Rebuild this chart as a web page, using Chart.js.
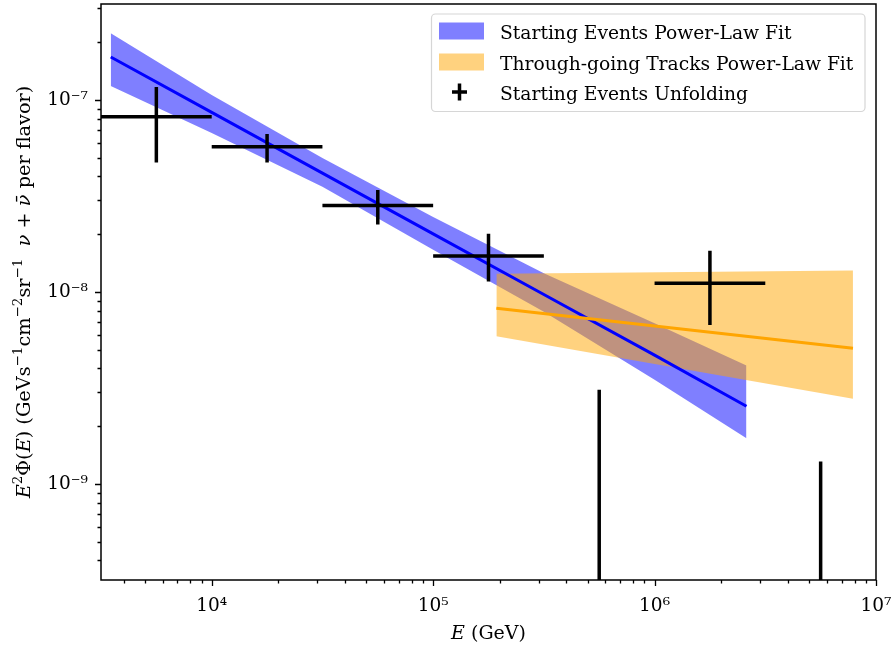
<!DOCTYPE html>
<html><head><meta charset="utf-8">
<script src="https://cdn.jsdelivr.net/npm/chart.js@4.4.0/dist/chart.umd.min.js"></script>
<style>html,body{margin:0;padding:0;background:#fff}#wrap{width:891px;height:646px}</style>
</head><body><div id="wrap"><canvas id="c" width="891" height="646"></canvas></div>
<script>
// ---- Starting events power-law fit (energy in GeV, E^2 flux) ----
const fitEnergy = [3500, 1e4, 3.162e4, 1e5, 3.162e5, 1e6, 2.6e6];
const fitLine   = [1.674e-7, 8.62e-8, 4.16e-8, 2.008e-8, 9.70e-9, 4.69e-9, 2.54e-9];
const fitUpper  = [2.23e-7, 1.062e-7, 4.99e-8, 2.46e-8, 1.251e-8, 6.87e-9, 4.14e-9];
const fitLower  = [1.182e-7, 6.73e-8, 3.53e-8, 1.658e-8, 7.89e-9, 3.49e-9, 1.733e-9];
// ---- Through-going tracks power-law fit ----
const trkEnergy = [1.93e5, 7.87e6];
const trkLine   = [8.24e-9, 5.10e-9];
const trkUpper  = [1.244e-8, 1.294e-8];
const trkLower  = [5.89e-9, 2.78e-9];
// ---- Starting events unfolding (bins) ----
const binLow    = [3162, 1e4, 31623, 1e5, 316228, 1e6, 3162278];
const binHigh   = [1e4, 31623, 1e5, 316228, 1e6, 3162278, 1e7];
const binCenter = [5623, 17783, 56234, 177828, 562341, 1778279, 5623413];
const flux      = [8.18e-8, 5.7e-8, 2.82e-8, 1.54e-8, 0, 1.11e-8, 0];
const fluxLow   = [4.72e-8, 4.72e-8, 2.25e-8, 1.135e-8, 0, 6.74e-9, 0];
const fluxHigh  = [1.17e-7, 6.65e-8, 3.4e-8, 2.01e-8, 3.1e-9, 1.64e-8, 1.31e-9];
// ---- axes ----
const xRange = [3162.28, 1e7];
const yRange = [3.1623e-10, 3.1623e-7];
const xTickValues = [1e4, 1e5, 1e6, 1e7];
const xTickLabels = ['10⁴', '10⁵', '10⁶', '10⁷'];
const yTickValues = [1e-9, 1e-8, 1e-7];
const yTickLabels = ['10⁻⁹', '10⁻⁸', '10⁻⁷'];
const legendLabels = ['Starting Events Power-Law Fit', 'Through-going Tracks Power-Law Fit', 'Starting Events Unfolding'];

const FONT = 'DejaVu Serif';
const BLUE = '#0000ff', ORANGE = '#ffa500';
const BLUE_BAND = 'rgba(0,0,255,0.5)', ORANGE_BAND = 'rgba(255,165,0,0.5)';

const zip = (xs, ys) => xs.map((x, i) => ({x, y: ys[i]}));
const belowAxis = yRange[0] / 100;

const errPts = [];
for (let i = 0; i < binCenter.length; i++) {
  if (flux[i] > 0) {
    errPts.push({x: binLow[i], y: flux[i]}, {x: binHigh[i], y: flux[i]}, {x: binCenter[i], y: null});
  }
  errPts.push({x: binCenter[i], y: fluxLow[i] > 0 ? fluxLow[i] : belowAxis}, {x: binCenter[i], y: fluxHigh[i]}, {x: binCenter[i], y: null});
}

function minorValues(lo, hi) {
  const out = [];
  for (let d = Math.floor(Math.log10(lo)) - 1; d <= Math.ceil(Math.log10(hi)); d++) {
    for (let k = 2; k <= 9; k++) { const v = k * Math.pow(10, d); if (v >= lo * 1.0001 && v <= hi * 0.9999) out.push(v); }
  }
  return out;
}

function drawRich(ctx, segs, size) {
  let total = 0;
  const items = segs.map(s => {
    const fs = s.sup ? size * 0.7 : size;
    const font = (s.it ? 'italic ' : '') + fs + 'px "' + FONT + '"';
    ctx.font = font;
    const w = ctx.measureText(s.t).width;
    total += w;
    return {t: s.t, font, w, dy: s.sup ? -size * 0.42 : 0};
  });
  let x = -total / 2;
  items.forEach(it => { ctx.font = it.font; ctx.fillText(it.t, x, it.dy); x += it.w; });
}

const decor = {
  id: 'decor',
  afterDraw(chart) {
    const ctx = chart.ctx, a = chart.chartArea;
    const xs = chart.scales.x, ys = chart.scales.y;
    ctx.save();
    ctx.strokeStyle = '#000'; ctx.fillStyle = '#000';
    // ticks
    ctx.lineWidth = 1.3;
    ctx.beginPath();
    xTickValues.forEach(v => { const p = Math.round(xs.getPixelForValue(v)) + 0.5; ctx.moveTo(p, a.bottom); ctx.lineTo(p, a.bottom + 6); });
    minorValues(xRange[0], xRange[1]).forEach(v => { const p = Math.round(xs.getPixelForValue(v)) + 0.5; ctx.moveTo(p, a.bottom); ctx.lineTo(p, a.bottom + 3.5); });
    yTickValues.forEach(v => { const p = Math.round(ys.getPixelForValue(v)) + 0.5; ctx.moveTo(a.left, p); ctx.lineTo(a.left - 6, p); });
    minorValues(yRange[0], yRange[1]).forEach(v => { const p = Math.round(ys.getPixelForValue(v)) + 0.5; ctx.moveTo(a.left, p); ctx.lineTo(a.left - 3.5, p); });
    ctx.stroke();
    // frame
    ctx.lineWidth = 1.5;
    ctx.strokeRect(a.left, a.top, a.right - a.left, a.bottom - a.top);
    // axis titles
    ctx.textBaseline = 'alphabetic'; ctx.textAlign = 'left';
    ctx.save();
    ctx.translate((a.left + a.right) / 2, 639);
    drawRich(ctx, [{t: 'E', it: 1}, {t: ' (GeV)'}], 19);
    ctx.restore();
    ctx.save();
    ctx.translate(30, (a.top + a.bottom) / 2);
    ctx.rotate(-Math.PI / 2);
    drawRich(ctx, [{t: 'E', it: 1}, {t: '2', sup: 1}, {t: 'Φ('}, {t: 'E', it: 1}, {t: ') (GeVs'}, {t: '−1', sup: 1},
      {t: 'cm'}, {t: '−2', sup: 1}, {t: 'sr'}, {t: '−1', sup: 1}, {t: '  '}, {t: 'ν', it: 1}, {t: ' + '},
      {t: 'ν̄', it: 1}, {t: ' per flavor)'}], 19.3);
    ctx.restore();
    // legend
    const lx = 431.5, ly = 14, lw = 433.5, lh = 97.5;
    ctx.beginPath();
    ctx.roundRect(lx, ly, lw, lh, 4);
    ctx.fillStyle = 'rgba(255,255,255,0.8)';
    ctx.fill();
    ctx.strokeStyle = '#d6d6d6'; ctx.lineWidth = 1.2; ctx.stroke();
    ctx.fillStyle = BLUE_BAND; ctx.fillRect(439, 22.5, 45, 17);
    ctx.fillStyle = ORANGE_BAND; ctx.fillRect(439, 53.5, 45, 17);
    ctx.strokeStyle = '#000'; ctx.lineWidth = 3.5;
    ctx.beginPath(); ctx.moveTo(452, 92); ctx.lineTo(467, 92); ctx.moveTo(459.5, 83.5); ctx.lineTo(459.5, 100.5); ctx.stroke();
    ctx.fillStyle = '#000'; ctx.font = '18.7px "' + FONT + '"'; ctx.textAlign = 'left';
    ctx.fillText(legendLabels[0], 500, 39);
    ctx.fillText(legendLabels[1], 500, 69.5);
    ctx.fillText(legendLabels[2], 500, 99.5);
    ctx.restore();
  }
};

const lineDs = (data, extra) => Object.assign({data, pointRadius: 0, borderWidth: 0, tension: 0, fill: false, spanGaps: false}, extra);

new Chart(document.getElementById('c'), {
  type: 'line',
  data: {
    datasets: [
      lineDs(zip(fitEnergy, fitUpper), {label: 'fitUpper', fill: '+1', backgroundColor: BLUE_BAND, borderColor: 'rgba(0,0,0,0)', order: 7}),
      lineDs(zip(fitEnergy, fitLower), {label: 'fitLower', borderColor: 'rgba(0,0,0,0)', order: 6}),
      lineDs(zip(trkEnergy, trkUpper), {label: 'trkUpper', fill: '+1', backgroundColor: ORANGE_BAND, borderColor: 'rgba(0,0,0,0)', order: 5}),
      lineDs(zip(trkEnergy, trkLower), {label: 'trkLower', borderColor: 'rgba(0,0,0,0)', order: 4}),
      lineDs(zip(fitEnergy, fitLine), {label: legendLabels[0], borderColor: BLUE, borderWidth: 3, order: 3}),
      lineDs(zip(trkEnergy, trkLine), {label: legendLabels[1], borderColor: ORANGE, borderWidth: 3, order: 2}),
      lineDs(errPts, {label: legendLabels[2], borderColor: '#000', borderWidth: 3.5, order: 1})
    ]
  },
  options: {
    responsive: false, animation: false, events: [],
    layout: {padding: {top: 4, right: 15, left: 0, bottom: 0}},
    plugins: {legend: {display: false}, tooltip: {enabled: false}},
    scales: {
      x: {
        type: 'logarithmic', min: xRange[0], max: xRange[1],
        grid: {display: false, drawTicks: false}, border: {display: false},
        afterFit: s => { s.height = 66; s.paddingLeft = 0; s.paddingRight = 0; },
        afterBuildTicks: s => { s.ticks = xTickValues.map(v => ({value: v})); },
        ticks: {autoSkip: false, maxRotation: 0, padding: 15, color: '#000', font: {family: FONT, size: 18.5},
          callback: (v) => { const i = xTickValues.indexOf(v); return i >= 0 ? xTickLabels[i] : ''; }}
      },
      y: {
        type: 'logarithmic', min: yRange[0], max: yRange[1],
        grid: {display: false, drawTicks: false}, border: {display: false},
        afterFit: s => { s.width = 101; s.paddingTop = 0; s.paddingBottom = 0; },
        afterBuildTicks: s => { s.ticks = yTickValues.map(v => ({value: v})); },
        ticks: {autoSkip: false, padding: 13, color: '#000', font: {family: FONT, size: 18.5},
          callback: (v) => { const i = yTickValues.indexOf(v); return i >= 0 ? yTickLabels[i] : ''; }}
      }
    }
  },
  plugins: [decor]
});
</script></body></html>
